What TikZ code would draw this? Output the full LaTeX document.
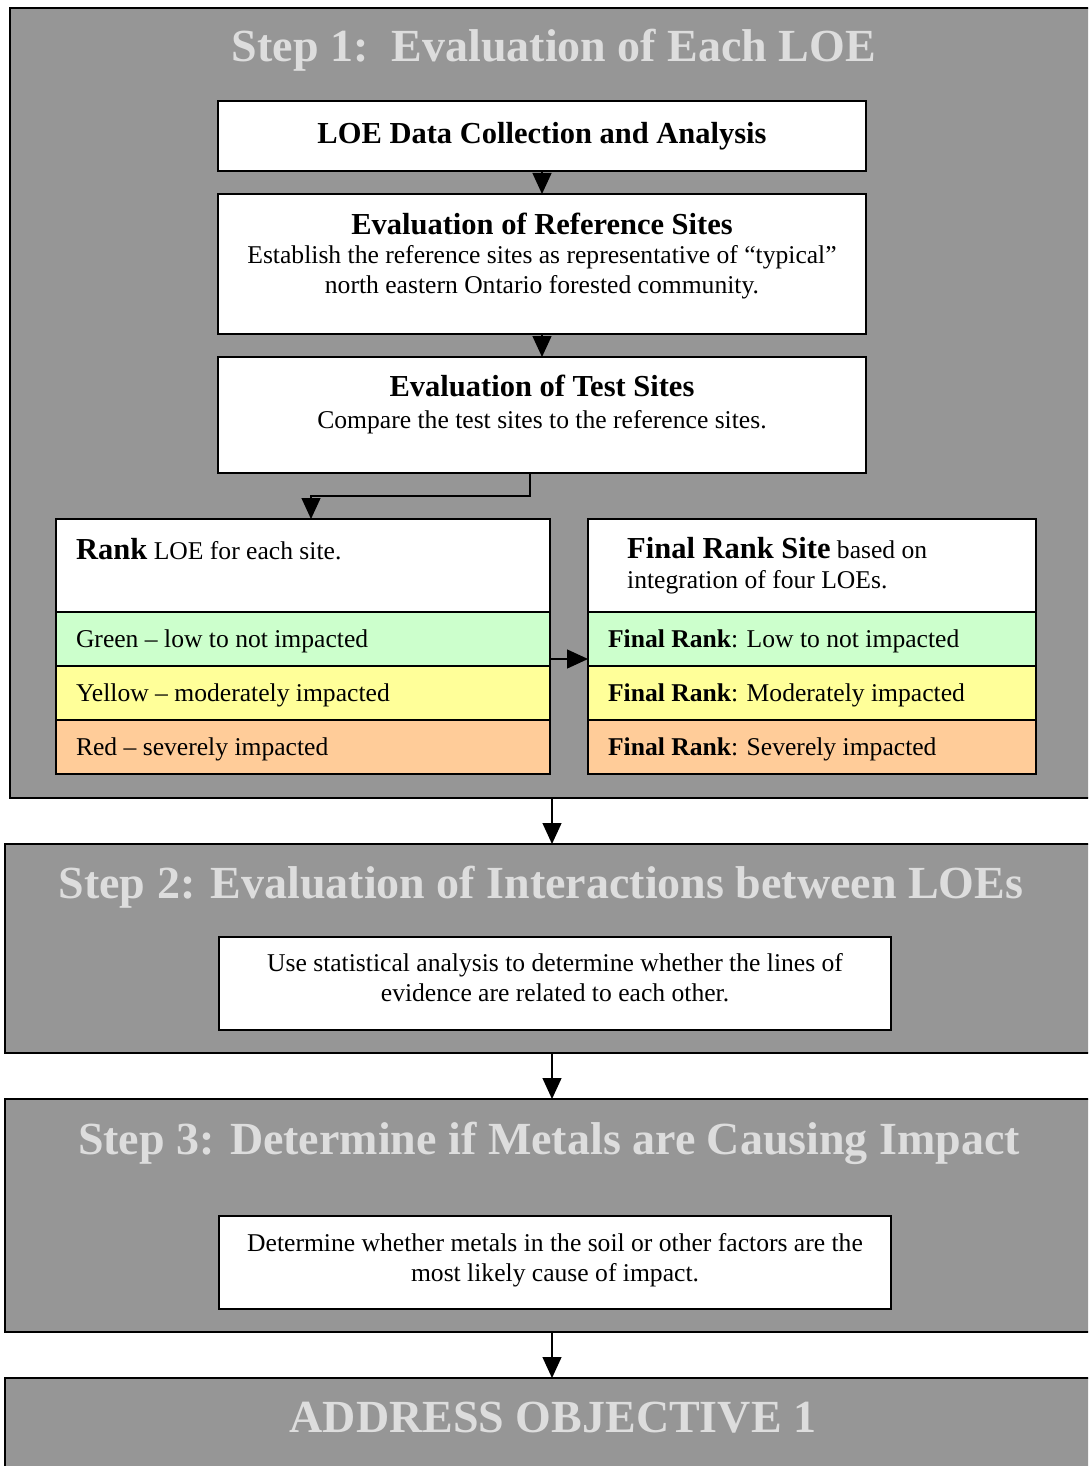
\documentclass[tikz,border=0pt]{standalone}
\usepackage{fontspec}
\setmainfont{Liberation Serif}
\usetikzlibrary{positioning, arrows.meta, calc}

\definecolor{panelgray}{HTML}{969696}
\definecolor{titlegray}{HTML}{DDDDDD}
\definecolor{lowgreen}{HTML}{CCFFCC}
\definecolor{modyellow}{HTML}{FFFF99}
\definecolor{sevorange}{HTML}{FFCC99}

\begin{document}
\begin{tikzpicture}[x=1pt,y=-1pt]

	% 样式
	\tikzset{
		panel/.style={draw, fill=panelgray, line width=1.6pt, anchor=north west,
			inner sep=0pt, outer sep=0pt, minimum width=1100pt},
		steptitle/.style={text=titlegray, anchor=base, inner sep=0pt,
			font=\fontsize{46}{50}\selectfont\bfseries},
		whitebox/.style={draw, fill=white, line width=1.3pt, anchor=north west,
			inner sep=0pt, outer sep=0pt},
		boxtext/.style={inner sep=0pt, font=\bodytxt},
		rankrow/.style={draw, line width=1.3pt, anchor=north, inner xsep=20pt,
			inner ysep=0pt, outer sep=0pt, minimum height=54pt,
			text width=#1, align=flush left, text height=20pt, text depth=4pt,
			font=\bodytxt},
		arr/.style={line width=1.3pt, -{Triangle[length=21pt, width=19pt]}}
	}

	% 字体
	\def\bodytxt{\fontsize{25.6}{29.5}\selectfont}
	\def\headtxt{\fontsize{30.5}{34}\selectfont\bfseries}

	\useasboundingbox (0,0) rectangle (1088,1466);
	\clip (0,0) rectangle (1088,1466);

	% 灰色面板
	\node[panel, minimum height=790pt] (step1) at (10,8) {};
	\node[panel, minimum height=209pt] (step2) at (5,844) {};
	\node[panel, minimum height=233pt] (step3) at (5,1099) {};
	\node[panel, minimum height=110pt] (step4) at (5,1378) {};

	% 标题
	\node[steptitle] (title1) at (554,62) {Step 1:\ \ Evaluation of Each LOE};
	\node[steptitle] (title2) at (541,898) {Step 2: Evaluation of Interactions between LOEs};
	\node[steptitle] (title3) at (549,1154) {Step 3: Determine if Metals are Causing Impact};
	\node[steptitle] (title4) at (553,1432) {ADDRESS OBJECTIVE 1};

	% 步骤一
	\node[whitebox, minimum width=648pt, minimum height=70pt, font=\headtxt]
		(collect) at (218,101) {LOE Data Collection and Analysis};
	\node[whitebox, minimum width=648pt, minimum height=140pt] (refsites) at (218,194) {};
	\node[boxtext, anchor=base, font=\headtxt] (refhead) at (542,234) {Evaluation of Reference Sites};
	\node[boxtext, anchor=base, align=flush center] (reftxt) at (542,293)
		{Establish the reference sites as representative of ``typical''\\
		 north eastern Ontario forested community.};
	\node[whitebox, minimum width=648pt, minimum height=116pt] (testsites) at (218,357) {};
	\node[boxtext, anchor=base, font=\headtxt] (testhead) at (542,396) {Evaluation of Test Sites};
	\node[boxtext, anchor=base] (testtxt) at (542,428)
		{Compare the test sites to the reference sites.};

	% 排名表
	\node[whitebox, minimum width=494pt, minimum height=93pt] (rankhead) at (56,519) {};
	\node[boxtext, anchor=base west] (ranktxt) at (76,559) {{\headtxt Rank} LOE for each site.};
	\node[rankrow=454pt, fill=lowgreen, below=0pt of rankhead] (rankgreen) {Green -- low to not impacted};
	\node[rankrow=454pt, fill=modyellow, below=0pt of rankgreen] (rankyellow) {Yellow -- moderately impacted};
	\node[rankrow=454pt, fill=sevorange, below=0pt of rankyellow] (rankred) {Red -- severely impacted};

	\node[whitebox, minimum width=448pt, minimum height=93pt] (finalhead) at (588,519) {};
	\node[boxtext, anchor=base west, align=flush left] (finaltxt) at (627,588)
		{{\headtxt Final Rank Site} based on\\integration of four LOEs.};
	\node[rankrow=408pt, fill=lowgreen, below=0pt of finalhead] (finalgreen) {\textbf{Final Rank}: Low to not impacted};
	\node[rankrow=408pt, fill=modyellow, below=0pt of finalgreen] (finalyellow) {\textbf{Final Rank}: Moderately impacted};
	\node[rankrow=408pt, fill=sevorange, below=0pt of finalyellow] (finalred) {\textbf{Final Rank}: Severely impacted};

	% 步骤二、三
	\node[whitebox, minimum width=672pt, minimum height=93pt] (interact) at (219,937) {};
	\node[boxtext, anchor=base, align=flush center] (interacttxt) at (555,1001)
		{Use statistical analysis to determine whether the lines of\\
		 evidence are related to each other.};
	\node[whitebox, minimum width=672pt, minimum height=93pt] (cause) at (219,1216) {};
	\node[boxtext, anchor=base, align=flush center] (causetxt) at (555,1281)
		{Determine whether metals in the soil or other factors are the\\
		 most likely cause of impact.};

	% 箭头
	\coordinate (bend) at (311,496);
	\coordinate (spine) at (552,0);
	\draw[arr] (collect.south) -- (refsites.north);
	\draw[arr] (refsites.south) -- (testsites.north);
	\draw[arr] ([xshift=-12pt]testsites.south) |- (bend) -- (bend |- rankhead.north);
	\draw[arr] ([yshift=-20pt]rankgreen.east) -- ([yshift=-20pt]finalgreen.west);
	\draw[arr] (step1.south -| spine) -- (step2.north -| spine);
	\draw[arr] (step2.south -| spine) -- (step3.north -| spine);
	\draw[arr] (step3.south -| spine) -- (step4.north -| spine);

\end{tikzpicture}
\end{document}
